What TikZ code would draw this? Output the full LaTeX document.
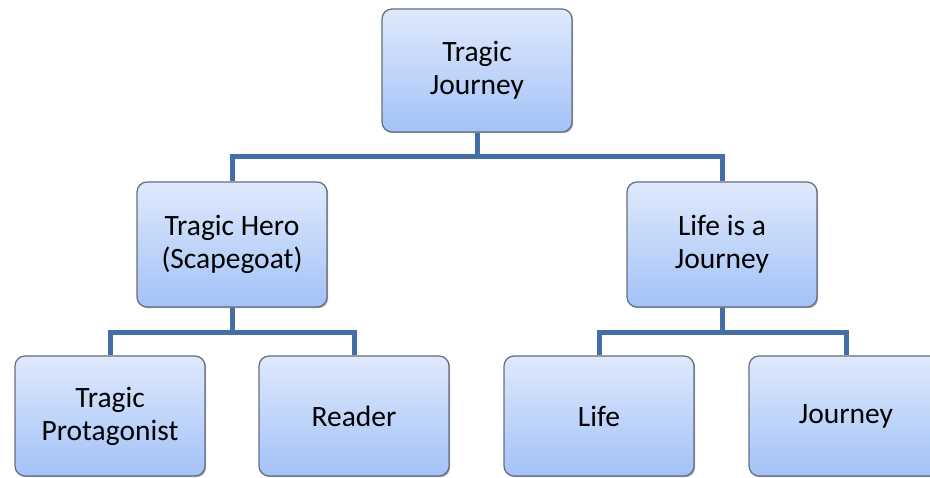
\documentclass[tikz,border=0pt]{standalone}
\usepackage{fontspec}
\setmainfont{Carlito}
\usetikzlibrary{shadows}
\definecolor{boxtop}{RGB}{223,233,252}
\definecolor{boxbot}{RGB}{163,194,247}
\definecolor{boxline}{RGB}{100,110,125}
\definecolor{conn}{RGB}{68,110,165}
\begin{document}
\begin{tikzpicture}[x=1pt,y=-1pt,
  box/.style={draw=boxline, line width=1.2pt, rounded corners=10pt,
    top color=boxtop, bottom color=boxbot,
    drop shadow={shadow xshift=1.2pt, shadow yshift=-1.2pt, opacity=0.35, fill=black},
    minimum width=190pt, align=center, inner sep=0pt,
    font=\fontsize{29.5}{33}\selectfont},
  link/.style={draw=conn, line width=5pt, line join=miter}]
\useasboundingbox (0,0) rectangle (930,478);
\clip (0,0) rectangle (930,478);
\node[box, minimum height=123pt] (top) at (477,70.5) {Tragic\\Journey};
\node[box, minimum height=125pt] (ml) at (232,244.5) {Tragic Hero\\(Scapegoat)};
\node[box, minimum height=125pt] (mr) at (722,244.5) {Life is a\\Journey};
\node[box, minimum height=120pt] (b1) at (110,416) {Tragic\\Protagonist};
\node[box, minimum height=120pt] (b2) at (354,416) {Reader};
\node[box, minimum height=120pt] (b3) at (599,416) {Life};
\node[box, minimum height=120pt, minimum width=194pt] (b4) at (846,416) {Journey};
\coordinate (j1) at (477,157);
\coordinate (j2) at (232,333);
\coordinate (j3) at (722,333);
\draw[link] (top.south) -- (j1);
\draw[link] (ml.north) |- (j1) -| (mr.north);
\draw[link] (ml.south) -- (j2);
\draw[link] (b1.north) |- (j2) -| (b2.north);
\draw[link] (mr.south) -- (j3);
\draw[link] (b3.north) |- (j3) -| (b4.north);
\end{tikzpicture}
\end{document}
